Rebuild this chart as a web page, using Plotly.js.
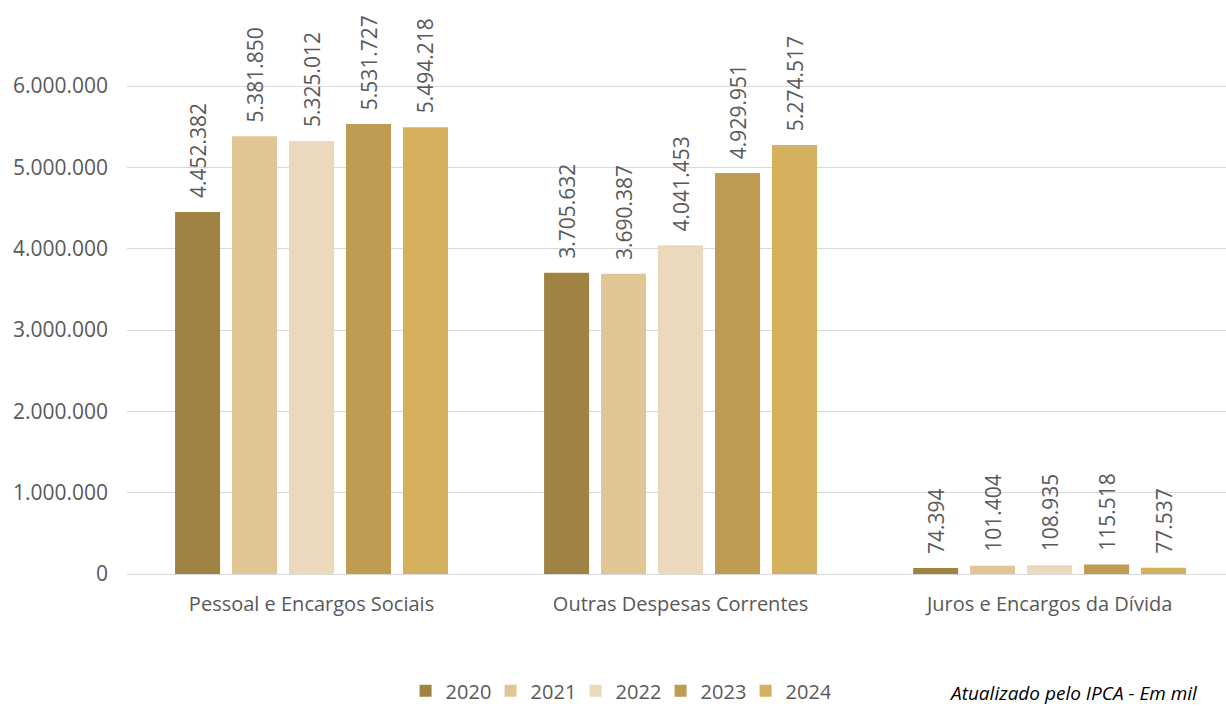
<!DOCTYPE html>
<html><head><meta charset="utf-8">
<script src="https://cdn.plot.ly/plotly-3.0.1.min.js"></script>
<style>html,body{margin:0;padding:0;background:#fff;}#chart{width:1226px;height:708px;}</style>
</head><body><div id="chart"></div>
<script>
const categories = ["Pessoal e Encargos Sociais", "Outras Despesas Correntes", "Juros e Encargos da Dívida"];
const years = ["2020", "2021", "2022", "2023", "2024"];
const v2020 = [4452382, 3705632, 74394];
const v2021 = [5381850, 3690387, 101404];
const v2022 = [5325012, 4041453, 108935];
const v2023 = [5531727, 4929951, 115518];
const v2024 = [5494218, 5274517, 77537];
const series = [v2020, v2021, v2022, v2023, v2024];
const colors = ["#a08242", "#e1c594", "#ead9bb", "#bf9c52", "#d5b05e"];
const yTicks = [0, 1000000, 2000000, 3000000, 4000000, 5000000, 6000000];

const font = "Open Sans, Noto Sans, sans-serif";
const fs = 20, fl = 21;
const traces = series.map((vals, i) => ({
  type: "bar", name: years[i], x: categories, y: vals,
  marker: {color: colors[i]},
  texttemplate: "\u00a0\u00a0%{y:,d}", textposition: "outside", textangle: -90,
  constraintext: "none",
  textfont: {family: font, size: fl, color: "#595959"},
  cliponaxis: false, hoverinfo: "skip"
}));

const layout = {
  width: 1226, height: 708,
  margin: {l: 127, r: 0, t: 10, b: 134, autoexpand: false},
  paper_bgcolor: "#fff", plot_bgcolor: "#fff",
  separators: ",.",
  barmode: "group", bargap: 0.228, bargroupgap: 0.21,
  uniformtext: {mode: "show", minsize: fl},
  font: {family: font, color: "#595959", size: fs},
  xaxis: {range: [-0.5, 2.478], showgrid: false, showline: false, ticks: "", ticklabelstandoff: 16,
          automargin: false, tickfont: {family: font, size: fs, color: "#595959"}},
  yaxis: {range: [0, 6935000], tickvals: yTicks, tickformat: ",d",
          showgrid: true, gridcolor: "#d9d9d9", gridwidth: 1, zeroline: true, zerolinecolor: "#d9d9d9",
          showline: false, ticks: "", ticklabelstandoff: 18, automargin: false,
          tickfont: {family: font, size: fl, color: "#595959"}},
  showlegend: true,
  legend: {orientation: "h", x: 0.2535, xanchor: "left", y: -0.207, yanchor: "middle",
           font: {family: font, size: fs, color: "#595959"}, itemwidth: 30, entrywidth: 40,
           traceorder: "normal"},
  annotations: [{text: "<i>Atualizado pelo IPCA - Em mil</i>", xref: "paper", yref: "paper",
                 x: 0.746, xanchor: "left", y: -0.211, yanchor: "middle", showarrow: false,
                 font: {family: font, size: 19, color: "#000"}}]
};
Plotly.newPlot("chart", traces, layout, {displayModeBar: false, staticPlot: true});
</script></body></html>
